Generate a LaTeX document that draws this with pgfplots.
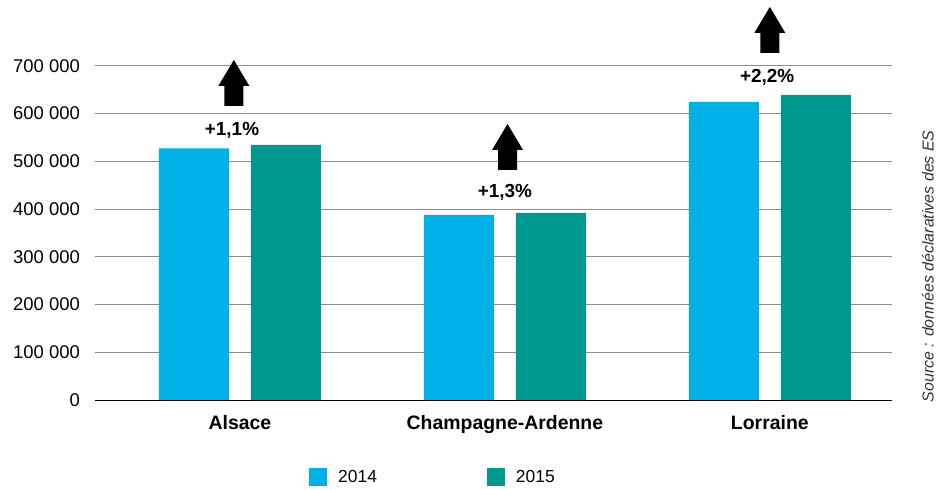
\documentclass[border=0pt]{standalone}
\usepackage{pgfplots}
\pgfplotsset{compat=1.18}
\usepackage{fontspec}
\setmainfont{Liberation Sans}
\definecolor{c2014}{RGB}{0,176,230}
\definecolor{c2015}{RGB}{0,152,143}
\newcommand{\uparr}[2]{%
  \fill[black] (axis cs:#1,#2) ++(-9.5bp,0bp) -- ++(19bp,0bp) -- ++(0bp,20bp) -- ++(6bp,0bp) -- ++(-15.5bp,26bp) -- ++(-15.5bp,-26bp) -- ++(6bp,0bp) -- cycle;}
\begin{document}
\begin{tikzpicture}
\begin{axis}[
  width=797bp, height=334.3bp, scale only axis,
  xmin=-0.547, xmax=2.461, ymin=0, ymax=700000,
  clip=false,
  scaled y ticks=false,
  axis line style={draw=none},
  major tick length=0pt,
  xtick={0,1,2},
  xticklabels={Alsace,Champagne-Ardenne,Lorraine},
  xticklabel style={font=\fontsize{19.5}{21}\selectfont\bfseries, inner sep=0pt, yshift=-15bp},
  ytick={0,100000,200000,300000,400000,500000,600000,700000},
  yticklabels={0,100 000,200 000,300 000,400 000,500 000,600 000,700 000},
  yticklabel style={font=\fontsize{18.5}{20}\selectfont, inner sep=0pt, xshift=-15bp},
  ymajorgrids,
  grid style={gray!90, line width=0.9bp},
  legend columns=2,
  legend style={at={(0.2685,-0.230)}, anchor=west, draw=none, inner sep=0pt,
    font=\fontsize{17.5}{20}\selectfont,
    /tikz/every odd column/.append style={column sep=9bp},
    /tikz/every even column/.append style={column sep=108bp}},
  legend image code/.code={\fill[#1,draw=none] (0bp,-9bp) rectangle (18bp,9bp);},
]
\addplot[ybar, bar width=70bp, bar shift=-46bp, fill=c2014, draw=none]
  coordinates {(0,527100) (1,387400) (2,624100)};
\addlegendentry{2014}
\addplot[ybar, bar width=70bp, bar shift=46bp, fill=c2015, draw=none]
  coordinates {(0,534000) (1,391600) (2,638700)};
\addlegendentry{2015}
\draw[black, line width=1bp] (rel axis cs:0,0) -- (rel axis cs:1,0);
\uparr{-0.023}{615700}
\uparr{1.01}{481700}
\uparr{2.0}{726700}
\node[font=\fontsize{19}{20}\selectfont\bfseries] at (axis cs:-0.03,565400) {+1,1\%};
\node[font=\fontsize{19}{20}\selectfont\bfseries] at (axis cs:1.0,435600) {+1,3\%};
\node[font=\fontsize{19}{20}\selectfont\bfseries] at (axis cs:1.99,676400) {+2,2\%};
\node[rotate=90, font=\fontsize{16}{18}\selectfont\itshape, text=black!80] at (rel axis cs:1.045,0.40) {Source : données déclaratives des ES};
\coordinate (O) at (rel axis cs:0,0);
\end{axis}
\pgfresetboundingbox
\path[use as bounding box] ([xshift=-95bp,yshift=-90bp]O) rectangle ++(937bp,490bp);
\end{tikzpicture}
\end{document}
